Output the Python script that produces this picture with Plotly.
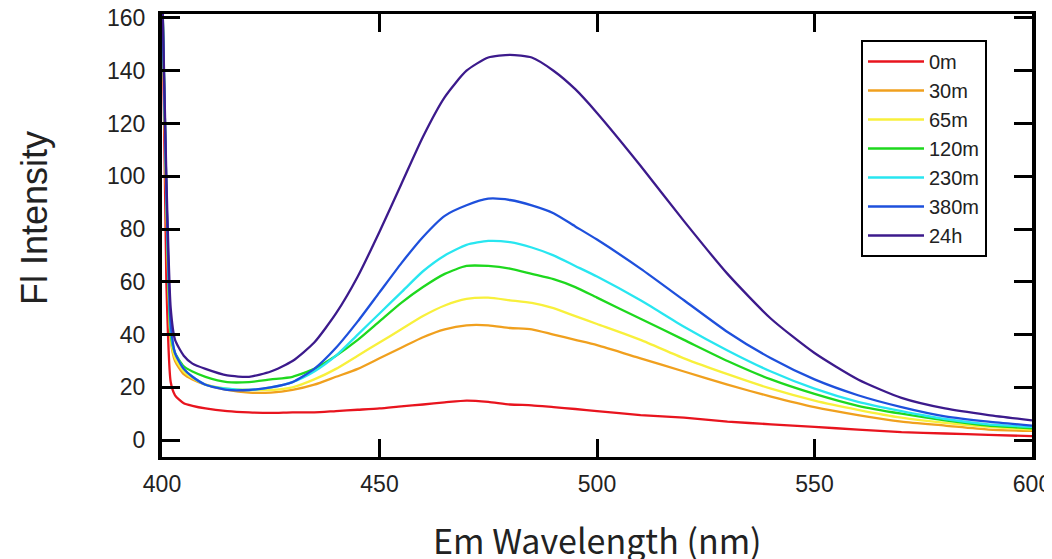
import plotly.graph_objects as go

wavelength = [400, 401, 402, 403, 405, 407, 410, 415, 420, 425, 430, 435, 440, 445, 450, 455, 460, 465,
              470, 475, 480, 485, 490, 495, 500, 510, 520, 530, 540, 550, 560, 570, 580, 590, 600]

s_0m   = [175, 60, 22, 17, 14, 13, 12, 11, 10.5, 10.3, 10.5, 10.5, 11, 11.5, 12, 12.8, 13.5, 14.3,
          15, 14.5, 13.5, 13.2, 12.5, 11.8, 11, 9.5, 8.5, 7, 6, 5, 4, 3, 2.5, 2, 1.5]
s_30m  = [175, 90, 38, 30, 25, 23, 21, 19, 18, 18, 19, 21, 24, 27, 31, 35, 39, 42,
          43.5, 43.5, 42.5, 42, 40, 38, 36, 31, 26, 21, 16.5, 12.5, 9.5, 7, 5.5, 4, 3.5]
s_65m  = [175, 90, 39, 31, 26, 23.5, 21, 19.5, 19, 19, 20, 23, 27, 32, 37, 42, 47, 51,
          53.5, 54, 53, 52, 50, 47, 44, 38, 31, 25, 19.5, 15, 11.5, 8.5, 6.5, 5, 4]
s_120m = [175, 95, 40, 33, 28, 26, 24, 22, 22, 23, 24, 27, 32, 38, 45, 52, 58, 63,
          66, 66, 65, 63, 61, 58, 54, 46, 38, 30, 23, 17.5, 13, 10, 7.5, 5.5, 4.5]
s_230m = [175, 95, 42, 33, 27, 24, 21, 19.5, 19, 20, 22, 26, 32, 40, 48, 56, 64, 70,
          74, 75.5, 75, 73, 70, 66, 62, 53, 43, 34, 26, 19.5, 14.5, 11, 8, 6, 5]
s_380m = [175, 95, 44, 33, 27, 24, 21, 19, 19, 20, 22, 27, 35, 45, 56, 67, 77, 85,
          89, 91.5, 91, 89, 86, 81, 76, 65, 53, 41, 31, 23, 17, 12.5, 9, 7, 5.5]
s_24h  = [175, 100, 50, 38, 32, 29, 27, 24.5, 24, 26, 30, 37, 48, 62, 79, 97, 115, 130,
          140, 145, 146, 145, 140, 133, 124, 104, 83, 63, 46, 33, 23, 16, 12, 9.5, 7.5]

series_names = ["0m", "30m", "65m", "120m", "230m", "380m", "24h"]
series_values = [s_0m, s_30m, s_65m, s_120m, s_230m, s_380m, s_24h]
colors = ["#e8141e", "#f0a01e", "#f8f03c", "#1ed81e", "#28e6f0", "#1e50dc", "#3c1a8c"]

x_ticks = [400, 450, 500, 550, 600]
y_ticks = [0, 20, 40, 60, 80, 100, 120, 140, 160]

fig = go.Figure()
for name, vals, col in zip(series_names, series_values, colors):
    fig.add_trace(go.Scatter(x=wavelength, y=vals, mode="lines", name=name,
                             line=dict(color=col, width=2.3, shape="spline", smoothing=0.6)))

tickfont = dict(family="Liberation Sans, Arial, sans-serif", size=23, color="#222")

# the page body adds an 8px offset, so margins are set in figure coordinates
L, R, T, B = 154, 28, 6, 110
plot_w, plot_h = 1052 - L - R, 559 - T - B

fig.update_layout(
    width=1052, height=559,
    margin=dict(l=L, r=R, t=T, b=B, autoexpand=False),
    paper_bgcolor="white", plot_bgcolor="white",
    showlegend=True,
    legend=dict(x=(861 - 8 - L) / plot_w, y=(559 - B - (40 - 8)) / plot_h,
                xanchor="left", yanchor="top",
                bordercolor="black", borderwidth=2, bgcolor="white",
                font=dict(family="Liberation Sans, Arial, sans-serif", size=20, color="#222"),
                itemwidth=56, tracegroupgap=0),
    xaxis=dict(range=[400, 600], tickvals=x_ticks, ticks="inside", ticklen=18, tickwidth=3,
               tickcolor="black", showline=True, linecolor="black", linewidth=3,
               mirror="allticks", showgrid=False, zeroline=False, tickfont=tickfont,
               ticklabelstandoff=4, ticklabeloverflow="allow"),
    yaxis=dict(range=[-6.4, 161.5], tickvals=y_ticks, ticks="inside", ticklen=18, tickwidth=3,
               tickcolor="black", showline=True, linecolor="black", linewidth=4,
               mirror="allticks", showgrid=False, zeroline=False, tickfont=tickfont,
               ticklabelstandoff=8, ticklabeloverflow="allow"),
    annotations=[
        dict(text="Fl Intensity", x=(34 - 8 - L) / plot_w, y=(559 - B - (218 - 8)) / plot_h,
             xref="paper", yref="paper", showarrow=False,
             textangle=-90, xanchor="center", yanchor="middle",
             font=dict(family="Liberation Sans, Arial, sans-serif", size=36, color="#222")),
        dict(text="Em Wavelength (nm)", x=0.5, y=(559 - B - (539 - 8)) / plot_h,
             xref="paper", yref="paper", showarrow=False,
             xanchor="center", yanchor="middle",
             font=dict(family="Noto Sans CJK JP, sans-serif", size=34, color="#222")),
    ],
)

fig.write_html("out.html")
